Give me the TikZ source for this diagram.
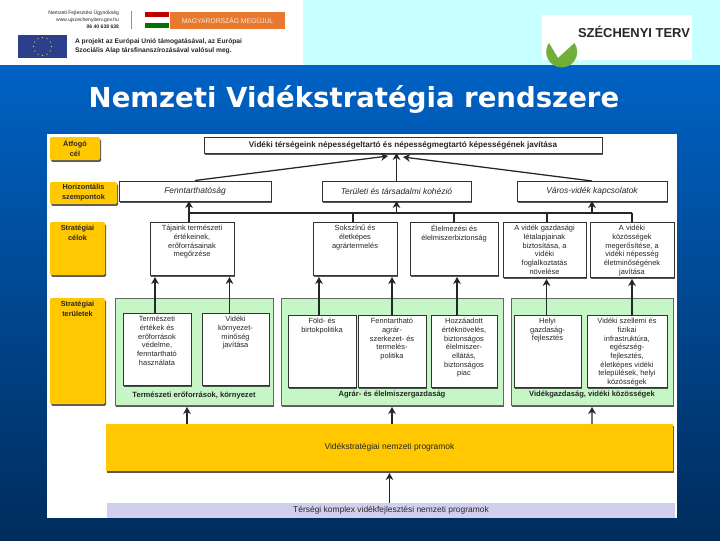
\documentclass[tikz,border=0pt]{standalone}
\usepackage{fontspec}
\setmainfont{Liberation Sans}
\newfontfamily\titlefont{DejaVu Sans}
\definecolor{slideblue}{HTML}{0062C4}
\definecolor{slidenavy}{HTML}{002C5C}
\definecolor{headcyan}{HTML}{C8FFFF}
\definecolor{sarga}{HTML}{FFC800}
\definecolor{zold}{HTML}{C6F5C6}
\definecolor{lila}{HTML}{D0D0EE}
\definecolor{narancs}{HTML}{E87A30}
\definecolor{pinzold}{HTML}{72AE3C}
\definecolor{eublue}{HTML}{2B3F8C}
\usetikzlibrary{calc, arrows.meta, shadows}
\newlength\px
\setlength\px{0.025cm}
\newcommand{\toptext}[3]{\parbox[c][#2\px][t]{#1\px}{\centering\vspace{2.2pt}#3}}

\begin{document}
\begin{tikzpicture}[
  x=0.025cm, y=-0.025cm,
  every node/.style={inner sep=0pt, outer sep=0pt, align=center, text=black!85},
  shadowed/.style={drop shadow={opacity=0.65, shadow xshift=0.8pt, shadow yshift=-1.4pt, fill=black}},
  cimke/.style={fill=sarga, rounded corners=1pt, shadowed, font=\fontsize{5.2}{7.2}\selectfont\bfseries},
  doboz/.style={draw=black!80, fill=white, line width=0.5pt, shadowed, font=\fontsize{5.3}{6.2}\selectfont},
  szempont/.style={doboz, font=\fontsize{6}{7}\selectfont\itshape},
  terulet/.style={draw=black!60, fill=zold, line width=0.4pt, shadowed},
  arrow/.style={-{Stealth[length=5pt, width=5.5pt]}, line width=0.9pt, black!85},
  line/.style={line width=0.9pt, black!85}
]
\useasboundingbox (0,0) rectangle (720,540);
% header and slide
\shade[top color=slideblue, bottom color=slidenavy] (0,65) rectangle (720,540);
\fill[headcyan] (303,0) rectangle (720,65);
\fill[white] (0,0) rectangle (303,65);
\fill[white] (47,134) rectangle (677,518);
\node[font=\titlefont\fontsize{19.6}{22}\selectfont\bfseries, text=white] (cim) at (354,99) {Nemzeti Vidékstratégia rendszere};

% logos, left
\node[anchor=east, font=\fontsize{3.6}{5}\selectfont, align=right] (ugynokseg) at (119,19) {Nemzeti Fejlesztési Ügynökség\\www.ujszechenyiterv.gov.hu\\\textbf{06 40 638 638}};
\draw[pinzold, line width=0.5pt] (131,11) -- (131,29);
\fill[red!75!black] (145,12) rectangle (169,17);
\fill[green!45!black] (145,23) rectangle (169,28);
\node[fill=narancs, minimum width=115\px, minimum height=17\px, text=white!85!narancs, font=\fontsize{4.8}{6}\selectfont] (megujul) at (227.5,20.5) {MAGYARORSZÁG MEGÚJUL};
\fill[eublue] (18,35) rectangle (67,58);
\foreach \a in {0,30,...,330}
  \fill[yellow!90!black] ({42.5+9*cos(\a)},{46.5+9*sin(\a)}) circle (0.7);
\node[anchor=west, align=left, font=\fontsize{4.75}{6.1}\selectfont\bfseries] (projekt) at (75,46.5) {A projekt az Európai Unió támogatásával, az Európai\\Szociális Alap társfinanszírozásával valósul meg.};

% logo, right
\fill[white] (542,15) rectangle (692,60);
\fill[pinzold] (558,58) -- (549,43) arc (215:-35:15.5) -- cycle;
\node[text=white, font=\fontsize{7}{8}\selectfont\bfseries] (uj) at (558,31) {ÚJ};
\node[anchor=west, font=\fontsize{9.2}{10}\selectfont\bfseries] (terv) at (578,32) {SZÉCHENYI TERV};

% yellow labels
\node[cimke, minimum width=50\px, minimum height=23\px] (l1) at (75,148.5) {Átfogó\\cél};
\node[cimke, minimum width=67\px, minimum height=22\px] (l2) at (83.5,193) {Horizontális\\szempontok};
\node[cimke, minimum width=55\px, minimum height=53\px] (l3) at (77.5,248.5) {\toptext{55}{53}{Stratégiai\\célok}};
\node[cimke, minimum width=55\px, minimum height=106\px] (l4) at (77.5,351) {\toptext{55}{106}{Stratégiai\\területek}};

% top row
\node[doboz, minimum width=398\px, minimum height=16\px, font=\fontsize{5.8}{7}\selectfont\bfseries] (cel) at (403,145) {Vidéki térségeink népességeltartó és népességmegtartó képességének javítása};
\node[szempont, minimum width=152\px, minimum height=20\px] (sz1) at (195,191) {Fenntarthatóság};
\node[szempont, minimum width=149\px, minimum height=20\px] (sz2) at (396.5,191) {Területi és társadalmi kohézió};
\node[szempont, minimum width=150\px, minimum height=20\px] (sz3) at (592,191) {Város-vidék kapcsolatok};

% strategic goals
\node[doboz] (c1) at (192,248.5) {\toptext{84}{53}{Tájaink természeti\\értékeinek,\\erőforrásainak\\megőrzése}};
\node[doboz] (c2) at (355,248.5) {\toptext{84}{53}{Sokszínű és\\életképes\\agrártermelés}};
\node[doboz] (c3) at (454,248.5) {\toptext{88}{53}{Élelmezési és\\élelmiszerbiztonság}};
\node[doboz] (c4) at (544.5,249.5) {\toptext{83}{55}{A vidék gazdasági\\létalapjainak\\biztosítása, a\\vidéki\\foglalkoztatás\\növelése}};
\node[doboz] (c5) at (632,249.5) {\toptext{84}{55}{A vidéki\\közösségek\\megerősítése, a\\vidéki népesség\\életminőségének\\javítása}};

% green areas
\node[terulet, minimum width=158\px, minimum height=107\px] (t1) at (194,351.5) {};
\node[terulet, minimum width=222\px, minimum height=107\px] (t2) at (392,351.5) {};
\node[terulet, minimum width=162\px, minimum height=107\px] (t3) at (592,351.5) {};
\node[font=\fontsize{5.4}{7}\selectfont\bfseries] (t1n) at ($(t1.south)+(0,-10)$) {Természeti erőforrások, környezet};
\node[font=\fontsize{5.4}{7}\selectfont\bfseries] (t2n) at ($(t2.south)+(0,-10)$) {Agrár- és élelmiszergazdaság};
\node[font=\fontsize{5.4}{7}\selectfont\bfseries] (t3n) at ($(t3.south)+(0,-10)$) {Vidékgazdaság, vidéki közösségek};

\node[doboz] (b1) at (157,349) {\toptext{68}{72}{Természeti\\értékek és\\erőforrások\\védelme,\\fenntartható\\használata}};
\node[doboz] (b2) at (235.5,349) {\toptext{67}{72}{Vidéki\\környezet-\\minőség\\javítása}};
\node[doboz] (b3) at (322,351) {\toptext{68}{72}{Föld- és\\birtokpolitika}};
\node[doboz] (b4) at (392,351) {\toptext{68}{72}{Fenntartható\\agrár-\\szerkezet- és\\termelés-\\politika}};
\node[doboz] (b5) at (464,351) {\toptext{66}{72}{Hozzáadott\\értéknövelés,\\biztonságos\\élelmiszer-\\ellátás,\\biztonságos\\piac}};
\node[doboz] (b6) at (547.5,351) {\toptext{67}{72}{Helyi\\gazdaság-\\fejlesztés}};
\node[doboz] (b7) at (627,351) {\toptext{80}{72}{Vidéki szellemi és\\fizikai\\infrastruktúra,\\egészség-\\fejlesztés,\\életképes vidéki\\települések, helyi\\közösségek}};

% programmes
\node[fill=sarga, shadowed, minimum width=567\px, minimum height=47\px, font=\fontsize{6}{7}\selectfont] (prog) at (389.5,447.5) {Vidékstratégiai  nemzeti programok};
\node[fill=lila, minimum width=568\px, minimum height=15\px, font=\fontsize{6}{7}\selectfont] (tersegi) at (391,510.5) {Térségi komplex vidékfejlesztési nemzeti programok};

% arrows to the top box
\draw[arrow] ($(sz1.north)+(0,-0.5)$) -- ($(cel.south)+(-15,3)$);
\draw[arrow] (sz2.north) -- (sz2.north |- cel.south);
\draw[arrow] (sz3.north) -- ($(cel.south)+(0,4)$);

% collecting line under the aspects
\coordinate (bal) at (189,213);
\coordinate (jobb) at (632,213);
\draw[line] (bal) -- (jobb);
\draw[arrow] (bal) -- (bal |- sz1.south);
\draw[arrow] (sz2.south |- bal) -- (sz2.south);
\draw[arrow] (sz3.south |- bal) -- (sz3.south);
\draw[line] (bal) -- (bal |- c1.north);
\draw[line] (c2.north -| 353,0) -- (353,213);
\draw[line] (c3.north) -- (c3.north |- bal);
\draw[line] ($(c4.north)+(2.5,0)$) -- ($(c4.north |- bal)+(2.5,0)$);
\draw[line] (c5.north) -- (jobb);

% arrows from the boxes to the goals
\draw[arrow] ($(b1.north)+(-2,0)$) -- ($(b1.north |- c1.south)+(-2,2)$);
\draw[arrow] ($(b2.north)+(-6,0)$) -- ($(b2.north |- c1.south)+(-6,2)$);
\draw[arrow] ($(b3.north)+(-3,0)$) -- ($(b3.north |- c2.south)+(-3,2)$);
\draw[arrow] (b4.north) -- ($(b4.north |- c2.south)+(0,2)$);
\draw[arrow] ($(b5.north)+(-7,0)$) -- ($(b5.north |- c3.south)+(-7,2)$);
\draw[arrow] ($(b6.north)+(-1,0)$) -- ($(b6.north |- c4.south)+(-1,2)$);
\draw[arrow] ($(b7.north)+(5,0)$) -- ($(b7.north |- c5.south)+(5,2)$);

% arrows from the programmes
\draw[arrow] ($(prog.north)+(-202.5,0)$) -- ($(t1.south)+(-7,2)$);
\draw[arrow] (t2.south |- prog.north) -- ($(t2.south)+(0,2)$);
\draw[arrow] ($(prog.north)+(202.5,0)$) -- ($(t3.south)+(0,2)$);
\draw[arrow] (tersegi.north -| prog.south) -- ($(prog.south)+(0,2)$);
\end{tikzpicture}
\end{document}
